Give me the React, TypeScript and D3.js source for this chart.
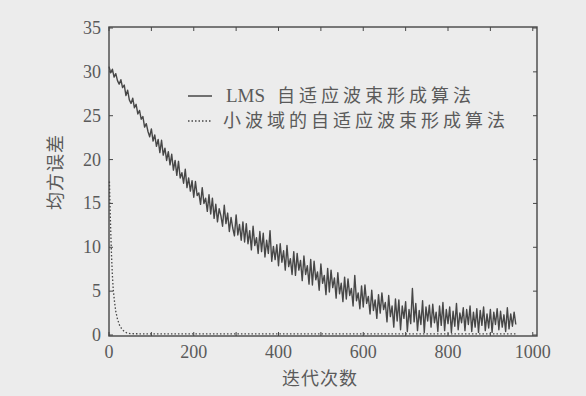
import React, { useRef, useEffect } from "react";
import * as d3 from "d3";

// 迭代次数 (LMS 曲线每 4 次取一点)
const lmsIters: number[] = d3.range(0, 961, 4);
const lmsMse: number[] = [
  30.6, 29.9, 30.3, 29.4, 29.8, 29.0, 28.6, 29.1, 28.2, 28.5,
  27.3, 27.9, 26.8, 26.4, 27.0, 25.9, 26.3, 25.2, 25.6, 24.6,
  24.9, 23.7, 24.1, 23.2, 22.6, 23.5, 22.1, 22.8, 21.5, 22.3,
  20.8, 22.2, 20.5, 21.3, 19.9, 20.9, 19.4, 20.6, 18.8, 19.9,
  18.2, 19.8, 17.9, 18.5, 17.3, 18.9, 16.8, 17.9, 16.4, 17.6,
  15.7, 17.5, 15.9, 16.2, 14.9, 16.8, 15.0, 15.6, 14.1, 16.0,
  13.8, 15.6, 13.3, 14.9, 12.9, 14.4, 13.6, 12.4, 14.8, 12.7,
  13.9, 11.8, 13.4, 12.2, 11.3, 13.7, 11.4, 12.6, 10.8, 12.9,
  10.6, 12.7, 10.4, 11.9, 9.7, 12.4, 10.2, 11.1, 9.3, 11.8,
  9.5, 11.6, 8.9, 10.8, 9.3, 11.9, 8.4, 10.1, 8.6, 10.3,
  7.9, 10.4, 8.3, 9.6, 7.4, 10.2, 7.8, 8.7, 6.9, 9.5,
  6.8, 9.3, 7.4, 8.5, 6.2, 9.0, 6.9, 7.9, 5.8, 8.6,
  5.7, 8.4, 6.3, 7.2, 5.1, 8.1, 5.9, 6.8, 4.6, 7.6,
  4.9, 7.4, 5.4, 6.5, 4.2, 7.1, 4.7, 5.9, 3.8, 6.6,
  4.1, 6.4, 4.5, 5.3, 3.3, 6.8, 3.9, 4.8, 3.0, 5.6,
  3.2, 5.7, 3.6, 4.4, 2.4, 5.1, 2.8, 4.0, 1.9, 4.6,
  2.5, 4.8, 2.9, 3.7, 1.5, 4.5, 2.1, 3.3, 0.9, 4.1,
  1.6, 4.0, 0.6, 3.3, 1.9, 3.8, 0.4, 2.9, 1.3, 5.3,
  1.5, 3.6, 0.5, 2.8, 1.2, 3.9, 0.3, 3.2, 1.6, 3.4,
  0.9, 3.5, 1.4, 2.6, 0.4, 3.3, 1.1, 3.7, 0.5, 2.9,
  1.3, 3.2, 0.3, 2.7, 1.0, 3.6, 0.6, 2.5, 1.4, 3.1,
  0.5, 2.9, 1.2, 3.3, 0.4, 2.6, 0.9, 3.0, 0.3, 2.8,
  1.1, 3.2, 0.5, 2.4, 0.8, 2.9, 0.3, 2.6, 1.2, 3.0,
  0.6, 2.7, 0.9, 2.3, 0.4, 3.1, 0.7, 2.4, 1.0, 2.6,
  1.2,
];

// 小波域曲线
const wavIters: number[] = [1, 2, 4, 6, 8, 10, 13, 16, 20, 25, 30, 36, 42, 50, 100, 300, 500, 700, 960];
const wavMse: number[] = [17.5, 15.5, 12.0, 9.0, 6.8, 5.2, 3.8, 2.7, 1.8, 1.1, 0.7, 0.4, 0.25, 0.15, 0.12, 0.12, 0.12, 0.12, 0.12];

const xTicks: number[] = [0, 200, 400, 600, 800, 1000];
const xMinorTicks: number[] = d3.range(0, 1001, 100);
const yTicks: number[] = [0, 5, 10, 15, 20, 25, 30, 35];

const legendPrefix: string[] = ["LMS", ""];
const legendLabels: string[] = ["自适应波束形成算法", "小波域的自适应波束形成算法"];
const xTitle = "迭代次数";
const yTitle = "均方误差";

const MseChart = ({ width = 586, height = 396 }) => {
  const ref = useRef<SVGSVGElement>(null);

  useEffect(() => {
    const container = ref.current;
    if (!container) return;
    d3.select(container).selectChildren().remove();

    const left = 109,
      right = 537,
      top = 27,
      bottom = 336;
    const ink = "#474747";
    const textCol = "#5a5a5a";

    const svg = d3.select(container);

    svg.append("rect").attr("width", width).attr("height", height).attr("fill", "#ececec");

    const x = d3.scaleLinear().domain([0, 1010]).range([left, right]);
    const y = d3.scaleLinear().domain([0, 35]).range([335, 28]);

    // 曲线
    const line = d3
      .line<number>()
      .x((d, i) => x(lmsIters[i]))
      .y((d) => y(d));

    svg
      .append("path")
      .attr("d", line(lmsMse))
      .attr("fill", "none")
      .attr("stroke", ink)
      .attr("stroke-width", 1.4)
      .attr("stroke-linejoin", "round");

    const wline = d3
      .line<number>()
      .x((d, i) => x(wavIters[i]))
      .y((d) => y(d));

    svg
      .append("path")
      .attr("d", wline(wavMse))
      .attr("fill", "none")
      .attr("stroke", ink)
      .attr("stroke-width", 1.3)
      .attr("stroke-dasharray", "1.5,2");

    // 边框
    svg
      .append("rect")
      .attr("x", left)
      .attr("y", top)
      .attr("width", right - left)
      .attr("height", bottom - top)
      .attr("fill", "none")
      .attr("stroke", ink)
      .attr("stroke-width", 1.4);

    // 刻度
    const tk = svg.append("g").attr("stroke", ink).attr("stroke-width", 1);
    xMinorTicks.forEach((t) => {
      tk.append("line").attr("x1", x(t)).attr("x2", x(t)).attr("y1", bottom).attr("y2", bottom - 4);
      tk.append("line").attr("x1", x(t)).attr("x2", x(t)).attr("y1", top).attr("y2", top + 4);
    });
    yTicks.forEach((t) => {
      tk.append("line").attr("x1", left).attr("x2", left + 4).attr("y1", y(t)).attr("y2", y(t));
      tk.append("line").attr("x1", right).attr("x2", right - 4).attr("y1", y(t)).attr("y2", y(t));
    });

    const serif = "'Liberation Serif', 'DejaVu Serif', serif";

    svg
      .append("g")
      .selectAll("text")
      .data(xTicks)
      .join("text")
      .attr("x", (d) => x(d))
      .attr("y", 358)
      .attr("text-anchor", "middle")
      .attr("font-family", serif)
      .attr("font-size", 18)
      .attr("fill", textCol)
      .text((d) => d);

    svg
      .append("g")
      .selectAll("text")
      .data(yTicks)
      .join("text")
      .attr("x", 101)
      .attr("y", (d) => y(d) + 6)
      .attr("text-anchor", "end")
      .attr("font-family", serif)
      .attr("font-size", 18)
      .attr("fill", textCol)
      .text((d) => d);

    const cjk = "'Noto Sans CJK SC', sans-serif";

    // 轴标题
    svg
      .append("text")
      .attr("x", 320)
      .attr("y", 385)
      .attr("text-anchor", "middle")
      .attr("font-family", cjk)
      .attr("font-size", 18)
      .attr("letter-spacing", 1)
      .attr("fill", textCol)
      .text(xTitle);

    svg
      .append("text")
      .attr("transform", "translate(62, 172) rotate(-90)")
      .attr("text-anchor", "middle")
      .attr("font-family", cjk)
      .attr("font-size", 18)
      .attr("letter-spacing", 1)
      .attr("fill", textCol)
      .text(yTitle);

    // 图例
    const lg = svg.append("g");
    legendLabels.forEach((label, i) => {
      const ly = 96 + i * 25;
      lg.append("line")
        .attr("x1", 188)
        .attr("x2", 212)
        .attr("y1", ly)
        .attr("y2", ly)
        .attr("stroke", ink)
        .attr("stroke-width", 1.5)
        .attr("stroke-dasharray", i === 0 ? null : "1.5,2");
      const t = lg
        .append("text")
        .attr("y", ly + 6)
        .attr("fill", textCol)
        .attr("font-size", 18);
      if (legendPrefix[i]) {
        t.append("tspan")
          .attr("x", 226)
          .attr("font-family", serif)
          .attr("font-size", 19)
          .text(legendPrefix[i]);
      }
      t.append("tspan")
        .attr("x", legendPrefix[i] ? 277 : 223)
        .attr("font-family", cjk)
        .attr("letter-spacing", 4)
        .text(label);
    });
  }, [width, height]);

  return <svg ref={ref} width={width} height={height} style={{ display: "block" }} />;
};

export default function App() {
  return (
    <div style={{ position: "absolute", left: 0, top: 0 }}>
      <MseChart />
    </div>
  );
}
